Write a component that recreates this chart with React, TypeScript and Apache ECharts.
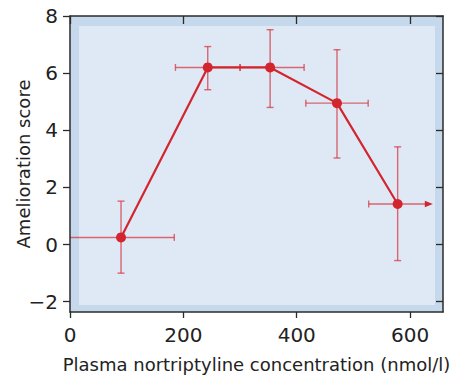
import React, { useEffect, useRef } from "react";
import * as echarts from "echarts";

const concentration = [90, 243, 353, 471, 578];
const score = [0.25, 6.2, 6.2, 4.95, 1.42];
const concLow = [-30, 186, 300, 416, 527];
const concHigh = [184, 300, 413, 526, 640];
const scoreLow = [-1.0, 5.42, 4.8, 3.03, -0.56];
const scoreHigh = [1.52, 6.93, 7.52, 6.82, 3.42];
const openEnded = [0, 0, 0, 0, 1];
const xTicks = [0, 200, 400, 600];
const yTicks = [-2, 0, 2, 4, 6, 8];

const RED = "#d3252e";
const ERR = "rgba(214, 50, 62, 0.72)";
const FONT = "DejaVu Sans";

export default function App() {
  const ref = useRef<HTMLDivElement>(null);
  useEffect(() => {
    document.body.style.margin = "0";
    if (!ref.current) return;
    const chart = echarts.init(ref.current, undefined, { renderer: "svg" });
    const errData = concentration.map((x, i) => [
      x, score[i], concLow[i], concHigh[i], scoreLow[i], scoreHigh[i], openEnded[i],
    ]);
    const axisLine = { show: true, onZero: false, lineStyle: { color: "#2b2b2b", width: 1.5 } };
    const tickStyle = { color: "#2b2b2b", width: 1.3 };
    chart.setOption({
      animation: false,
      grid: {
        left: 70, right: 15, top: 16, bottom: 63,
        show: true, backgroundColor: "#c5d8ec", borderWidth: 0,
        outerBoundsMode: "none",
      },
      graphic: [
        {
          type: "rect", z: 1, silent: true,
          shape: { x: 79, y: 26, width: 356, height: 279 },
          style: { fill: "#dfe9f5" },
        },
      ],
      xAxis: [
        {
          type: "value", min: 0, max: 658, position: "bottom", z: 5,
          axisLine, splitLine: { show: false },
          axisTick: { show: true, inside: false, length: 6, lineStyle: tickStyle, customValues: xTicks },
          axisLabel: { customValues: xTicks, color: "#222", fontSize: 20, fontFamily: FONT, margin: 13 },
          name: "Plasma nortriptyline concentration (nmol/l)",
          nameLocation: "middle", nameGap: 43, nameMoveOverlap: false,
          nameTextStyle: { color: "#222", fontSize: 18, fontFamily: FONT },
        },
        {
          type: "value", min: 0, max: 658, position: "top", z: 5,
          axisLine, splitLine: { show: false },
          axisTick: { show: true, inside: true, length: 8, lineStyle: tickStyle, customValues: xTicks },
          axisLabel: { show: false },
        },
      ],
      yAxis: [
        {
          type: "value", min: -2.36, max: 8, position: "left", z: 5,
          axisLine, splitLine: { show: false },
          axisTick: { show: true, inside: false, length: 7, lineStyle: tickStyle, customValues: yTicks },
          axisLabel: {
            customValues: yTicks, color: "#222", fontSize: 20, fontFamily: FONT, margin: 12,
            formatter: (v: number) => (v < 0 ? "\u2212" + Math.abs(v) : String(v)),
          },
          name: "Amelioration score",
          nameLocation: "middle", nameGap: 38, nameMoveOverlap: false,
          nameTextStyle: { color: "#222", fontSize: 18, fontFamily: FONT },
        },
        {
          type: "value", min: -2.36, max: 8, position: "right", z: 5,
          axisLine, splitLine: { show: false },
          axisTick: { show: true, inside: true, length: 7, lineStyle: tickStyle, customValues: yTicks },
          axisLabel: { show: false },
        },
      ],
      series: [
        {
          type: "custom",
          z: 2,
          clip: true,
          data: errData,
          renderItem: (params: any, api: any) => {
            const x = api.value(0), y = api.value(1);
            const xl = api.value(2), xh = api.value(3);
            const yl = api.value(4), yh = api.value(5);
            const open = api.value(6);
            const c = api.coord([x, y]);
            const pL = api.coord([xl, y]);
            const pH = api.coord([xh, y]);
            const pLo = api.coord([x, yl]);
            const pHi = api.coord([x, yh]);
            const cap = 3.5;
            const st = { stroke: ERR, lineWidth: 1.4, fill: null };
            const children: any[] = [
              { type: "line", shape: { x1: c[0], y1: pLo[1], x2: c[0], y2: pHi[1] }, style: st },
              { type: "line", shape: { x1: c[0] - cap, y1: pLo[1], x2: c[0] + cap, y2: pLo[1] }, style: st },
              { type: "line", shape: { x1: c[0] - cap, y1: pHi[1], x2: c[0] + cap, y2: pHi[1] }, style: st },
              { type: "line", shape: { x1: pL[0], y1: c[1] - cap, x2: pL[0], y2: c[1] + cap }, style: st },
            ];
            if (open) {
              children.push({ type: "line", shape: { x1: pL[0], y1: c[1], x2: pH[0] - 6, y2: c[1] }, style: st });
              children.push({
                type: "polygon",
                shape: { points: [[pH[0], c[1]], [pH[0] - 8, c[1] - 3.2], [pH[0] - 8, c[1] + 3.2]] },
                style: { fill: RED, stroke: null },
              });
            } else {
              children.push({ type: "line", shape: { x1: pL[0], y1: c[1], x2: pH[0], y2: c[1] }, style: st });
              children.push({ type: "line", shape: { x1: pH[0], y1: c[1] - cap, x2: pH[0], y2: c[1] + cap }, style: st });
            }
            return { type: "group", children };
          },
        },
        {
          type: "line",
          z: 3,
          data: concentration.map((x, i) => [x, score[i]]),
          symbol: "circle",
          symbolSize: 10,
          itemStyle: { color: RED },
          lineStyle: { color: RED, width: 2.2 },
        },
      ],
    });
    return () => chart.dispose();
  }, []);
  return <div ref={ref} style={{ width: 458, height: 375 }} />;
}
